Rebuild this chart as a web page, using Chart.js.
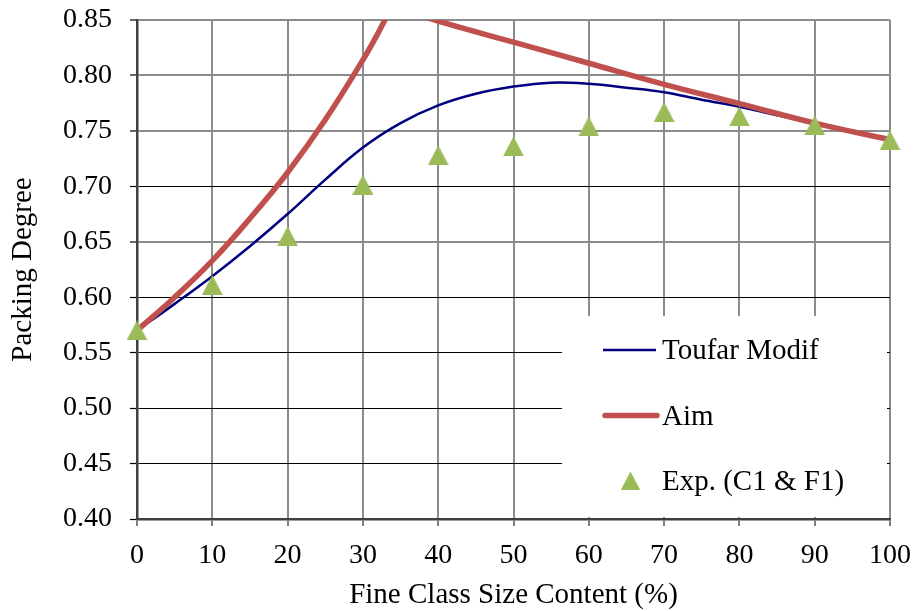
<!DOCTYPE html>
<html>
<head>
<meta charset="utf-8">
<script src="https://cdn.jsdelivr.net/npm/chart.js@4.4.1/dist/chart.umd.min.js"></script>
<style>
  html, body { margin: 0; padding: 0; background: #fff; }
  #wrap { width: 917px; height: 611px; }
</style>
</head>
<body>
<div id="wrap"><canvas id="c" width="917" height="611"></canvas></div>
<script>
// ---- Data ----
const xTitle = 'Fine Class Size Content (%)';
const yTitle = 'Packing Degree';

const seriesNames = ['Toufar Modif', 'Aim', 'Exp. (C1 & F1)'];

const toufarX = [0, 5, 10, 15, 20, 25, 30, 35, 40, 45, 50, 55, 60, 65, 70, 75, 80, 85, 90, 95, 100];
const toufarY = [0.570, 0.594, 0.619, 0.646, 0.675, 0.706, 0.735, 0.757, 0.773, 0.7835, 0.790, 0.7935, 0.7925, 0.789, 0.7848, 0.778, 0.7718, 0.764, 0.757, 0.749, 0.742];

const aimX = [0, 5, 10, 15, 20, 25, 30, 32, 33, 34, 36, 40, 50, 60, 70, 80, 90, 100];
const aimY = [0.570, 0.600, 0.633, 0.671, 0.7125, 0.760, 0.814, 0.838, 0.851, 0.863, 0.858, 0.849, 0.830, 0.811, 0.792, 0.7746, 0.757, 0.742];

const expX = [0, 10, 20, 30, 40, 50, 60, 70, 80, 90, 100];
const expY = [0.570, 0.611, 0.655, 0.7015, 0.728, 0.736, 0.754, 0.767, 0.763, 0.755, 0.7415];

const xMin = 0, xMax = 100, xStep = 10;
const yMin = 0.40, yMax = 0.85, yStep = 0.05;

// ---- Styling ----
const FONT = 'Liberation Serif, Times New Roman, serif';
const BLUE = '#000080';
const RED = '#C0504D';
const GREEN = '#9BBB59';

function makeTriangle(w, h) {
  const cv = document.createElement('canvas');
  cv.width = w; cv.height = h;
  const c = cv.getContext('2d');
  c.fillStyle = GREEN;
  c.beginPath();
  c.moveTo(w / 2, 0);
  c.lineTo(w, h);
  c.lineTo(0, h);
  c.closePath();
  c.fill();
  return cv;
}
const triMarker = makeTriangle(21, 20);
const triLegend = makeTriangle(19, 18);

const toPts = (xs, ys) => xs.map((x, i) => ({ x: x, y: ys[i] }));

const legendPlugin = {
  id: 'boxLegend',
  beforeDatasetsDraw(chart) {
    const ctx = chart.ctx;
    const ca = chart.chartArea;
    const L = ca.right - 328, R = ca.right - 3;
    const T = ca.top + 296, B = ca.bottom - 2;
    ctx.save();
    ctx.fillStyle = '#fff';
    ctx.fillRect(L, T, R - L, B - T);
    ctx.restore();
  },
  afterDatasetsDraw(chart) {
    const ctx = chart.ctx;
    const ca = chart.chartArea;
    const L = ca.right - 328;
    const T = ca.top + 296;
    const sx0 = L + 41, sx1 = L + 94, tx = L + 100;
    ctx.save();
    // Toufar Modif
    ctx.strokeStyle = BLUE; ctx.lineWidth = 2.5; ctx.lineCap = 'butt';
    ctx.beginPath(); ctx.moveTo(sx0, T + 34); ctx.lineTo(sx1, T + 34); ctx.stroke();
    // Aim
    ctx.strokeStyle = RED; ctx.lineWidth = 5.5; ctx.lineCap = 'round';
    ctx.beginPath(); ctx.moveTo(sx0 + 2, T + 99.5); ctx.lineTo(sx1 + 1, T + 99.5); ctx.stroke();
    // Exp
    ctx.drawImage(triLegend, (sx0 + sx1) / 2 + 1 - triLegend.width / 2, T + 164.5 - triLegend.height / 2);
    ctx.fillStyle = '#000';
    ctx.font = '29px ' + FONT;
    ctx.textAlign = 'left';
    ctx.textBaseline = 'alphabetic';
    ctx.fillText(seriesNames[0], tx, T + 43);
    ctx.fillText(seriesNames[1], tx, T + 108.5);
    ctx.fillText(seriesNames[2], tx, T + 174);
    ctx.restore();
  }
};

const isGrayY = v => {
  const k = Math.round(v * 100);
  return k === 85 || k === 80 || k === 75 || k === 65;
};

new Chart(document.getElementById('c'), {
  type: 'line',
  data: {
    datasets: [
      {
        label: seriesNames[2],
        data: toPts(expX, expY),
        showLine: false,
        pointStyle: triMarker,
        pointRadius: 10,
        pointHoverRadius: 10,
        clip: false,
        order: 0
      },
      {
        label: seriesNames[1],
        data: toPts(aimX, aimY),
        borderColor: RED,
        borderWidth: 5.5,
        borderCapStyle: 'round',
        borderJoinStyle: 'round',
        pointRadius: 0,
        fill: false,
        tension: 0.4,
        order: 1
      },
      {
        label: seriesNames[0],
        data: toPts(toufarX, toufarY),
        borderColor: BLUE,
        borderWidth: 2.5,
        pointRadius: 0,
        fill: false,
        tension: 0.4,
        order: 2
      }
    ]
  },
  options: {
    responsive: false,
    devicePixelRatio: 1,
    animation: false,
    layout: { padding: { top: 20, right: 27, bottom: 0, left: 0 } },
    plugins: { legend: { display: false }, tooltip: { enabled: false } },
    scales: {
      x: {
        type: 'linear',
        min: xMin, max: xMax,
        ticks: {
          stepSize: xStep,
          color: '#000',
          font: { family: FONT, size: 28 },
          padding: 13,
          maxRotation: 0
        },
        grid: {
          color: '#8c8c8c',
          lineWidth: 2,
          tickLength: 7,
          tickColor: '#555',
          tickWidth: 1.5
        },
        border: { color: '#404040', width: 2.5 },
        title: {
          display: true,
          text: xTitle,
          color: '#000',
          font: { family: FONT, size: 29, lineHeight: 1 },
          padding: { top: 0, bottom: 1 }
        },
        afterFit: s => { s.height = 92; s.paddingLeft = 0; s.paddingRight = 0; }
      },
      y: {
        min: yMin, max: yMax,
        ticks: {
          stepSize: yStep,
          color: '#000',
          font: { family: FONT, size: 28 },
          padding: 18,
          callback: v => Number(v).toFixed(2)
        },
        grid: {
          color: ctx => (ctx.tick && isGrayY(ctx.tick.value)) ? '#8c8c8c' : '#000',
          lineWidth: ctx => (ctx.tick && isGrayY(ctx.tick.value)) ? 2 : 1,
          tickLength: 7,
          tickColor: '#000',
          tickWidth: 1.2
        },
        border: { color: '#404040', width: 2.5 },
        title: {
          display: true,
          text: yTitle,
          color: '#000',
          font: { family: FONT, size: 29, lineHeight: 1 },
          padding: { top: 9, bottom: 0 }
        },
        afterFit: s => { s.width = 137; s.paddingTop = 0; s.paddingBottom = 0; }
      }
    }
  },
  plugins: [legendPlugin]
});
</script>
</body>
</html>
